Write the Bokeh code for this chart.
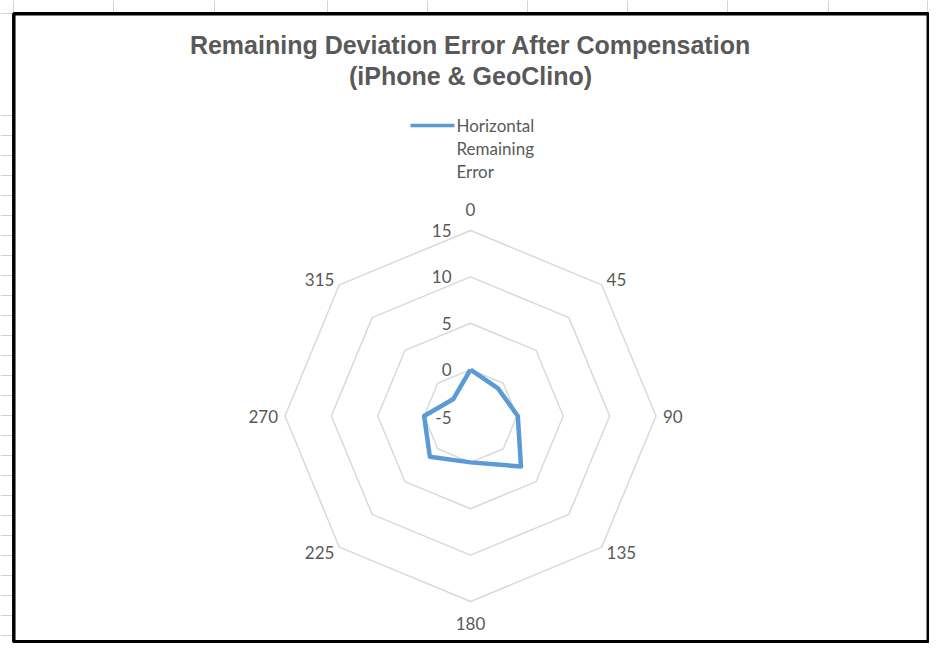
import math
from bokeh.plotting import figure
from bokeh.models import Range1d, ColumnDataSource
from bokeh.core.properties import value
from bokeh.embed import file_html
from bokeh.resources import INLINE

# ---- data ----
ANGLES = [0, 45, 90, 135, 180, 225, 270, 315]
ANGLE_LABELS = ["0", "45", "90", "135", "180", "225", "270", "315"]
ERROR = [0.0, -0.8, 0.1, 2.7, 0.0, 1.2, 0.0, -2.4]
RADIAL_TICKS = [-5, 0, 5, 10, 15]
RADIAL_LABELS = ["-5", "0", "5", "10", "15"]
SERIES_NAME = ["Horizontal", "Remaining", "Error"]
TITLE = ["Remaining Deviation Error After Compensation", "(iPhone & GeoClino)"]

# ---- layout (picture pixel coordinates) ----
CX, CY, R = 470.0, 415.5, 185.5
RMIN, RMAX = RADIAL_TICKS[0], RADIAL_TICKS[-1]
GREY_TXT = "#595959"
RING = "#d9d9d9"
BLUE = "#5b9bd5"
SHEET = "#d4d4d4"
LABEL_SIZE = "17px"

def rad(v):
    return (v - RMIN) / (RMAX - RMIN) * R

def pt(angle, v):
    a = math.radians(angle)
    r = rad(v)
    return CX + r * math.sin(a), CY - r * math.cos(a)

p = figure(width=929, height=643, x_range=Range1d(0, 929), y_range=Range1d(643, 0),
           toolbar_location=None, output_backend="svg", min_border=0,
           x_axis_location=None, y_axis_location=None)
p.grid.visible = False
p.outline_line_color = None
p.background_fill_color = "white"
p.border_fill_color = "white"

# spreadsheet gridlines behind the chart
col_x = [13, 113, 214, 327, 427, 527, 627, 727, 828, 927]
row_y = [13] + [115 + 20 * k for k in range(27)] + [648]
p.segment(x0=col_x, y0=[0] * len(col_x), x1=col_x, y1=[660] * len(col_x),
          line_color=SHEET, line_width=1)
p.segment(x0=[0] * len(row_y), y0=row_y, x1=[945] * len(row_y), y1=row_y,
          line_color=SHEET, line_width=1)

# chart area with black frame
p.quad(left=[13.3], right=[927.8], top=[13.3], bottom=[641.3],
       fill_color="white", line_color="black", line_width=3.5)

# title
p.text(x=[CX, CX], y=[44, 75], text=TITLE, text_font=value("Liberation Sans"),
       text_font_style="bold", text_font_size="25px", text_color=GREY_TXT,
       text_align="center", text_baseline="middle")

# legend
p.line(x=[410, 454], y=[125, 125], line_color=BLUE, line_width=3.5)
p.text(x=[456] * 3, y=[125, 148, 171], text=SERIES_NAME, text_font=value("Lato"),
       text_font_size=LABEL_SIZE, text_color=GREY_TXT, text_align="left",
       text_baseline="middle")

# rings
for t in RADIAL_TICKS[1:]:
    xs, ys = zip(*[pt(a, t) for a in ANGLES + [ANGLES[0]]])
    p.line(x=list(xs), y=list(ys), line_color=RING, line_width=1.5)

# radial tick labels
p.text(x=[CX - 19] * len(RADIAL_TICKS),
       y=[pt(0, t)[1] + (1 if t == RMIN else 0) for t in RADIAL_TICKS],
       text=RADIAL_LABELS, text_font=value("Lato"), text_font_size=LABEL_SIZE,
       text_color=GREY_TXT, text_align="right", text_baseline="middle")

# angle labels
lx, ly, la = [], [], []
for a in ANGLES:
    vx, vy = pt(a, RMAX)
    s, c = math.sin(math.radians(a)), math.cos(math.radians(a))
    if abs(s) < 1e-6:
        lx.append(vx); ly.append(vy - 21.5 * c); la.append("center")
    else:
        ux, uy = 7 * s, -7 * c
        lx.append(vx + ux); ly.append(vy + uy)
        la.append("left" if s > 0 else "right")
src = ColumnDataSource(dict(x=lx, y=ly, t=ANGLE_LABELS, a=la))
p.text(x="x", y="y", text="t", text_align="a", source=src, text_font=value("Lato"),
       text_font_size=LABEL_SIZE, text_color=GREY_TXT, text_baseline="middle")

# data series
xs, ys = zip(*[pt(a, v) for a, v in zip(ANGLES + [ANGLES[0]], ERROR + [ERROR[0]])])
p.line(x=list(xs), y=list(ys), line_color=BLUE, line_width=4.5, line_join="round")

open("out.html", "w").write(file_html(p, INLINE))
